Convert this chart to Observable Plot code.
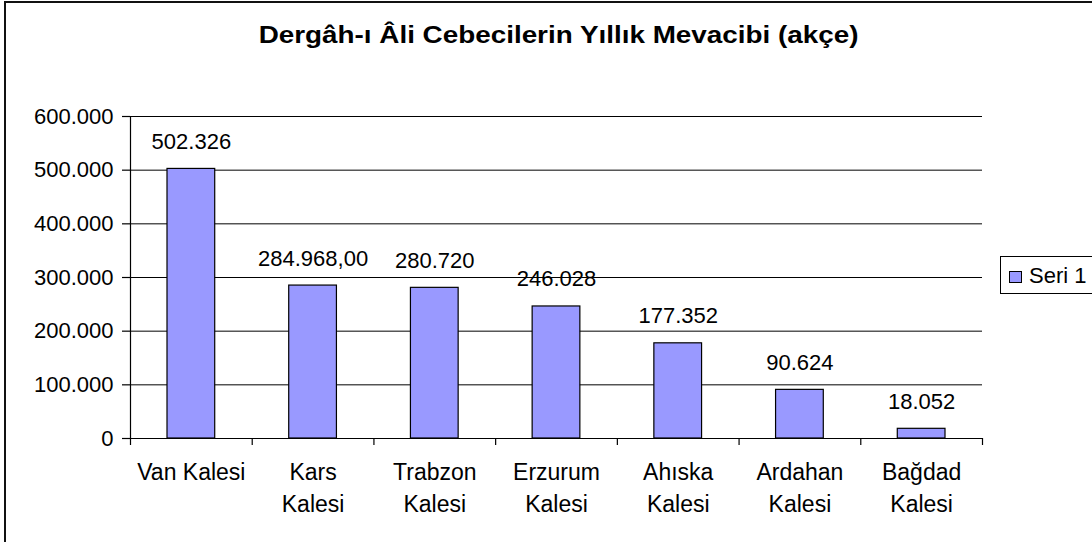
<!DOCTYPE html>
<html>
<head>
<meta charset="utf-8">
<script src="https://cdn.jsdelivr.net/npm/d3@7"></script>
<script src="https://cdn.jsdelivr.net/npm/@observablehq/plot@0.6"></script>
<style>
  html, body { margin: 0; padding: 0; background: #fff; }
  #wrap { position: relative; width: 1092px; height: 542px; overflow: hidden; background: #fff;
          font-family: "Liberation Sans", Arial, sans-serif; color: #000; }
  #frame { position: absolute; left: 4px; top: 1px; width: 1200px; height: 700px; border: 2px solid #111; box-sizing: border-box; }
  #title { position: absolute; left: 0; width: 1118px; top: 22px; text-align: center; }
  #title span { display: inline-block; font-weight: bold; font-size: 24px; line-height: 26px; transform: scaleX(1.16); transform-origin: center; }
  #chart { position: absolute; left: 0; top: 0; }
  #legend { position: absolute; left: 1000px; top: 256px; width: 100px; height: 38px; border: 1px solid #000; box-sizing: border-box; }
  #legend .sw { position: absolute; left: 8px; top: 14px; width: 13px; height: 12px; background: #9999ff; border: 1px solid #000; box-sizing: border-box; }
  #legend .lb { position: absolute; left: 28px; top: 6px; font-size: 22px; line-height: 26px; }
</style>
</head>
<body>
<div id="wrap">
  <div id="frame"></div>
  <div id="chart"></div>
  <div id="title"><span>Dergâh-ı Âli Cebecilerin Yıllık Mevacibi (akçe)</span></div>
  <div id="legend"><div class="sw"></div><div class="lb">Seri 1</div></div>
</div>
<script>
const categories = ["Van Kalesi", "Kars Kalesi", "Trabzon Kalesi", "Erzurum Kalesi", "Ahıska Kalesi", "Ardahan Kalesi", "Bağdad Kalesi"];
const categoryLabels = ["Van Kalesi", "Kars\nKalesi", "Trabzon\nKalesi", "Erzurum\nKalesi", "Ahıska\nKalesi", "Ardahan\nKalesi", "Bağdad\nKalesi"];
const values = [502326, 284968, 280720, 246028, 177352, 90624, 18052];
const valueLabels = ["502.326", "284.968,00", "280.720", "246.028", "177.352", "90.624", "18.052"];
const yTicks = [0, 100000, 200000, 300000, 400000, 500000, 600000];

const data = categories.map((c, i) => ({i, name: c, label: categoryLabels[i], value: values[i], text: valueLabels[i]}));
const tr = d3.formatLocale({decimal: ",", thousands: ".", grouping: [3], currency: ["", ""]});
const fmt = tr.format(",d");

const chart = Plot.plot({
  width: 1092,
  height: 542,
  marginLeft: 130,
  marginRight: 110,
  marginTop: 116,
  marginBottom: 104,
  style: {fontFamily: "'Liberation Sans', Arial, sans-serif", fontSize: "22px", color: "#000", background: "transparent", overflow: "visible"},
  x: {type: "linear", domain: [0, categories.length], axis: null, label: null},
  y: {domain: [0, 600000], axis: null, label: null},
  marks: [
    Plot.ruleY(yTicks.filter(t => t > 0), {stroke: "#000", strokeWidth: 1}),
    Plot.rectY(data, {x1: "i", x2: d => d.i + 1, y1: 0, y2: "value", fill: "#9999ff", stroke: "#000", strokeWidth: 1.2, insetLeft: 37, insetRight: 37}),
    Plot.ruleY([0], {stroke: "#000", strokeWidth: 1.2}),
    Plot.ruleX([0], {y1: 0, y2: 600000, stroke: "#000", strokeWidth: 1.2}),
    Plot.axisY({ticks: yTicks, tickSize: 8, tickPadding: 9, tickFormat: fmt, fontSize: 22, stroke: "#000", strokeWidth: 1.2, label: null}),
    Plot.axisX({ticks: d3.range(categories.length + 1), tickSize: 7, tickFormat: () => "", stroke: "#000", strokeWidth: 1.2, label: null}),
    Plot.text(data, {x: d => d.i + 0.5, y: 0, text: "label", lineAnchor: "top", dy: 19, fontSize: 23, lineHeight: 1.38, fill: "#000"}),
    Plot.text(data, {x: d => d.i + 0.5, y: "value", text: "text", lineAnchor: "bottom", dy: -20, fontSize: 22, fill: "#000"})
  ]
});
document.getElementById("chart").appendChild(chart);
</script>
</body>
</html>
